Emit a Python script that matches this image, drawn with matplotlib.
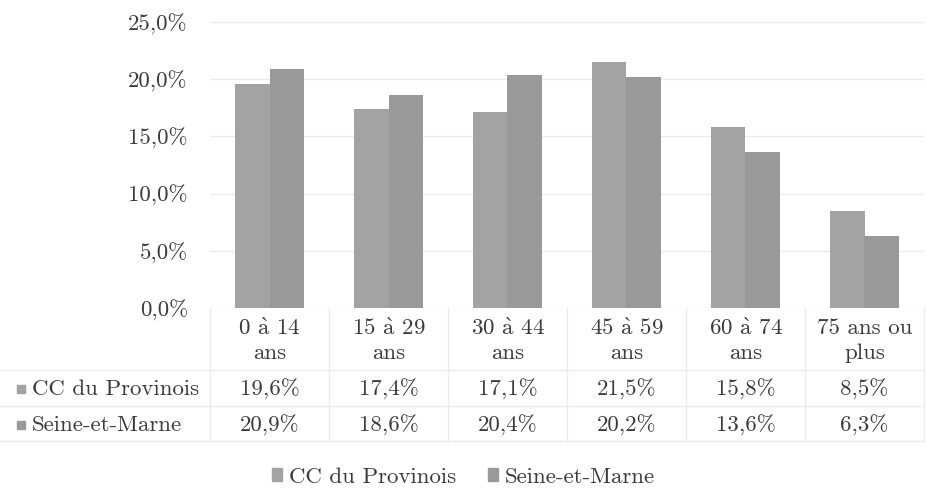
import matplotlib.pyplot as plt
import matplotlib.transforms as mtransforms
from matplotlib.patches import Patch
import numpy as np

A = r"$\mathrm{\grave{a}}$"
categories = [f"0 {A} 14\nans", f"15 {A} 29\nans", f"30 {A} 44\nans", f"45 {A} 59\nans",
              f"60 {A} 74\nans", "75 ans ou\nplus"]
series_names = ["CC du Provinois", "Seine-et-Marne"]
provinois = [19.6, 17.4, 17.1, 21.5, 15.8, 8.5]
seine_et_marne = [20.9, 18.6, 20.4, 20.2, 13.6, 6.3]
yticks = [0, 5, 10, 15, 20, 25]

colors = ["#a3a3a3", "#999999"]
grid_col = "#ebebeb"
text_col = "#3a3a3a"

plt.rcParams['font.family'] = ['cmr10', 'DejaVu Serif']
plt.rcParams['mathtext.fontset'] = 'cm'
plt.rcParams['axes.formatter.use_mathtext'] = True
FS = 16.5

W, H = 927, 490
fig = plt.figure(figsize=(W / 100, H / 100), dpi=100)

def fy(py):
    return 1 - py / H

ax = fig.add_axes([210 / W, fy(308), (924 - 210) / W, (308 - 22) / H])
x = np.arange(len(categories))
bw = 0.29
ax.bar(x - bw / 2, provinois, bw, color=colors[0], zorder=2)
ax.bar(x + bw / 2, seine_et_marne, bw, color=colors[1], zorder=2)

ax.set_xlim(-0.5, len(categories) - 0.5)
ax.set_ylim(0, 25)
ax.set_yticks(yticks)
ax.set_yticklabels([f"{v:.1f}%".replace(".", ",") for v in yticks],
                   fontsize=FS, color=text_col)
ax.tick_params(axis='y', length=0, pad=16)
ax.set_xticks([])
ax.yaxis.grid(True, color=grid_col, lw=1, zorder=0)
for s in ax.spines.values():
    s.set_visible(False)

# data table below the bars
blend = mtransforms.blended_transform_factory(ax.transData, fig.transFigure)
for i, lab in enumerate(categories):
    l1, l2 = lab.split("\n")
    ax.text(i, fy(328), l1, transform=blend, ha='center', va='center',
            fontsize=FS, color=text_col)
    ax.text(i, fy(353), l2, transform=blend, ha='center', va='center',
            fontsize=FS, color=text_col)
    ax.text(i, fy(389), f"{provinois[i]:.1f}%".replace(".", ","), transform=blend,
            ha='center', va='center', fontsize=FS, color=text_col)
    ax.text(i, fy(425), f"{seine_et_marne[i]:.1f}%".replace(".", ","), transform=blend,
            ha='center', va='center', fontsize=FS, color=text_col)

for b in np.arange(-0.5, len(categories), 1.0):
    ax.plot([b, b], [fy(308), fy(441)], transform=blend, color=grid_col,
            lw=1, clip_on=False)
for py in (370, 406, 441):
    fig.add_artist(plt.Line2D([0, 924 / W], [fy(py), fy(py)], color=grid_col, lw=1))

for py, name, c in ((389, series_names[0], colors[0]), (425, series_names[1], colors[1])):
    fig.add_artist(plt.Rectangle((17 / W, fy(py) - 4 / H), 8 / W, 8 / H,
                                 color=c, transform=fig.transFigure))
    fig.text(32 / W, fy(py), name, ha='left', va='center', fontsize=FS, color=text_col)

handles = [Patch(color=c) for c in colors]
fig.legend(handles, series_names, loc='center', bbox_to_anchor=(0.5, fy(477)),
           ncol=2, frameon=False, fontsize=FS, handlelength=0.45, handleheight=0.45,
           handletextpad=0.3, columnspacing=1.4, labelcolor=text_col)

fig.savefig("out.png", dpi=100)
